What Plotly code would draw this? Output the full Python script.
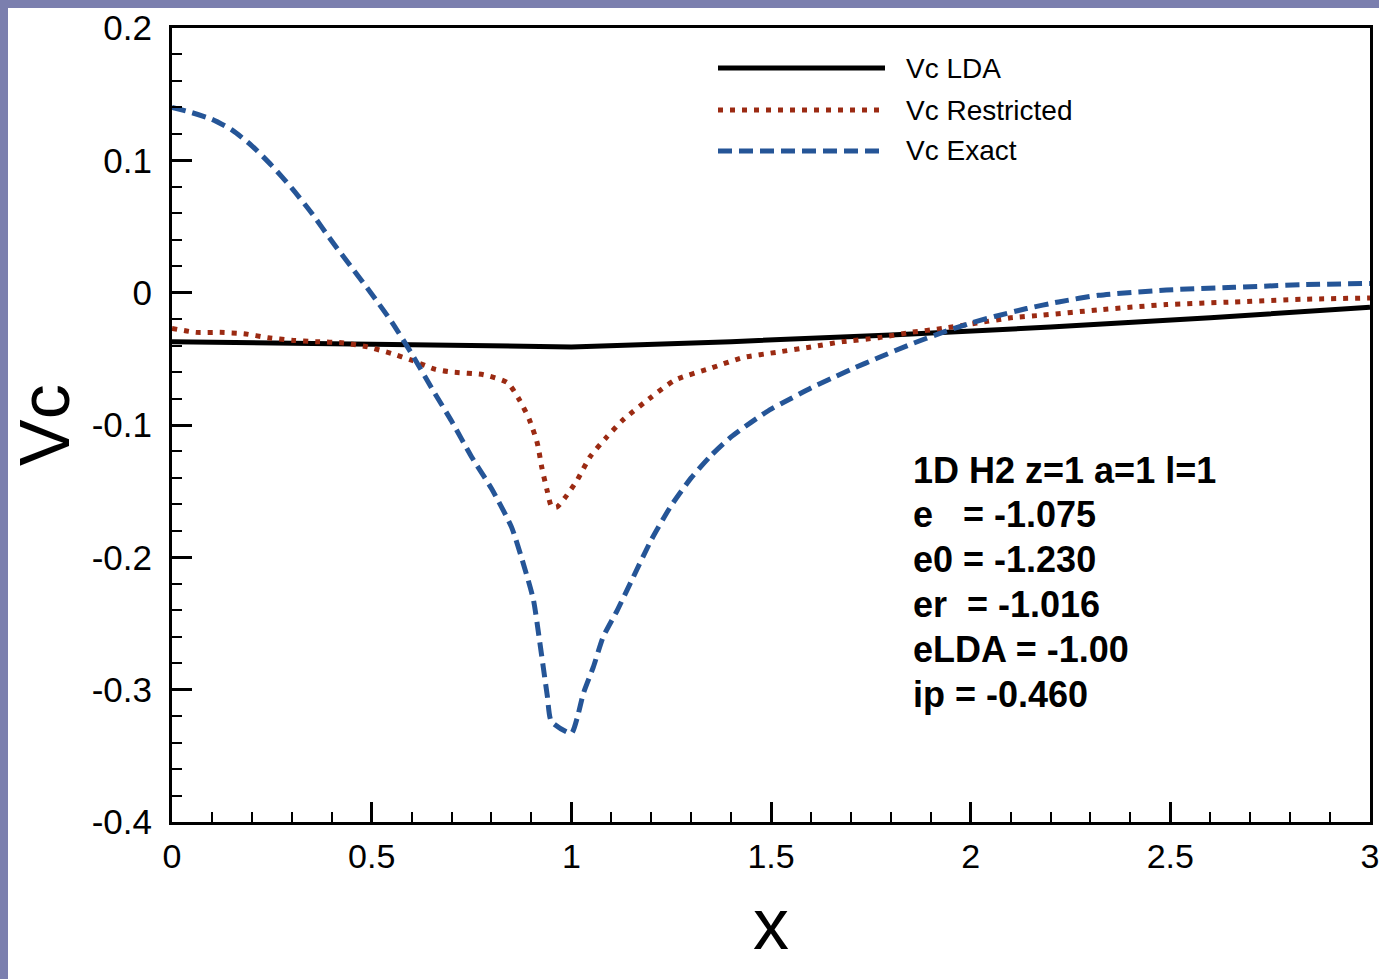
import plotly.graph_objects as go

# ---------------- data ----------------
lda_x = [0.0, 0.3, 0.5, 0.7, 1.0, 1.4, 1.8, 2.2, 2.6, 3.0]
lda_y = [-0.037, -0.038, -0.0385, -0.0395, -0.041, -0.037, -0.032, -0.026, -0.019, -0.011]

restricted_x = [0.0, 0.06, 0.12, 0.18, 0.24, 0.30, 0.36, 0.43, 0.49, 0.55, 0.60, 0.66,
                0.70, 0.78, 0.84, 0.87, 0.895, 0.915, 0.926, 0.939, 0.951, 0.964, 0.984,
                1.014, 1.047, 1.089, 1.13, 1.20, 1.26, 1.35, 1.43, 1.515, 1.60, 1.68,
                1.77, 1.85, 1.93, 2.015, 2.10, 2.18, 2.32, 2.49, 2.66, 2.83, 3.0]
restricted_y = [-0.027, -0.030, -0.030, -0.031, -0.034, -0.036, -0.037, -0.038, -0.041,
                -0.046, -0.051, -0.058, -0.060, -0.062, -0.068, -0.081, -0.096, -0.114,
                -0.132, -0.149, -0.162, -0.162, -0.155, -0.142, -0.124, -0.109, -0.096,
                -0.079, -0.066, -0.057, -0.049, -0.045, -0.041, -0.037, -0.034, -0.030,
                -0.027, -0.023, -0.019, -0.017, -0.013, -0.009, -0.007, -0.005, -0.004]

exact_x = [0.0, 0.05, 0.10, 0.15, 0.20, 0.25, 0.30, 0.35, 0.40, 0.45, 0.50, 0.55, 0.60,
           0.65, 0.70, 0.75, 0.80, 0.85, 0.88, 0.905, 0.92, 0.94, 0.95, 1.00, 1.015, 1.03,
           1.055, 1.08, 1.115, 1.155, 1.20, 1.25, 1.30, 1.35, 1.40, 1.45, 1.50, 1.55, 1.60,
           1.65, 1.70, 1.77, 1.85, 1.93, 2.00, 2.06, 2.14, 2.22, 2.32, 2.49, 2.66, 2.83, 3.0]
exact_y = [0.140, 0.136, 0.131, 0.123, 0.111, 0.096, 0.079, 0.060, 0.039, 0.019, -0.001,
           -0.022, -0.046, -0.072, -0.097, -0.124, -0.148, -0.177, -0.205, -0.232, -0.262,
           -0.305, -0.324, -0.333, -0.321, -0.303, -0.283, -0.260, -0.240, -0.215, -0.187,
           -0.161, -0.140, -0.123, -0.109, -0.098, -0.088, -0.080, -0.072, -0.065, -0.058,
           -0.049, -0.039, -0.030, -0.023, -0.018, -0.012, -0.007, -0.002, 0.002, 0.004,
           0.006, 0.007]

series_names = ["Vc LDA", "Vc Restricted", "Vc Exact"]

x_tickvals = [0, 0.5, 1, 1.5, 2, 2.5, 3]
x_ticktext = ["0", "0.5", "1", "1.5", "2", "2.5", "3"]
y_tickvals = [0.2, 0.1, 0, -0.1, -0.2, -0.3, -0.4]
y_ticktext = ["0.2", "0.1", "0", "-0.1", "-0.2", "-0.3", "-0.4"]

info_lines = ["1D H2 z=1 a=1 l=1",
              "e\u00a0\u00a0\u00a0= -1.075",
              "e0 = -1.230",
              "er\u00a0\u00a0= -1.016",
              "eLDA = -1.00",
              "ip = -0.460"]

# ---------------- layout helpers ----------------
W, H = 1379, 979
L, R, T, B = 172, 9, 28, 157
PW, PH = W - L - R, H - T - B


def px(xp):
    return (xp - L) / PW


def py(yp):
    return 1 - (yp - T) / PH


FONT = "Liberation Sans, Arial, Helvetica, sans-serif"
colors = ["#000000", "#9b2a12", "#255597"]
dashes = ["solid", "5px,7px", "14px,7px"]
widths = [5, 5, 5]
shapes_line = ["linear", "spline", "spline"]

fig = go.Figure()
for xs, ys, name, c, d, w, sh in zip([lda_x, restricted_x, exact_x],
                                     [lda_y, restricted_y, exact_y],
                                     series_names, colors, dashes, widths, shapes_line):
    line = dict(color=c, dash=d, width=w, shape=sh)
    if sh == "spline":
        line["smoothing"] = 0.6
    fig.add_trace(go.Scatter(x=xs, y=ys, mode="lines", name=name,
                             line=line, showlegend=False))

shapes = []
annotations = []

# custom legend
legend_rows = [68, 110, 151]
for name, c, d, w, row in zip(series_names, colors, dashes, widths, legend_rows):
    shapes.append(dict(type="line", xref="paper", yref="paper",
                       x0=px(718), x1=px(885), y0=py(row), y1=py(row),
                       line=dict(color=c, dash=d, width=w)))
    annotations.append(dict(text=name, xref="paper", yref="paper",
                            x=px(904), y=py(row), xanchor="left", yanchor="middle",
                            showarrow=False, font=dict(family=FONT, size=28, color="black")))

# info text block
info_rows = [470, 514, 559, 604, 649, 694]
for txt, row in zip(info_lines, info_rows):
    annotations.append(dict(text="<b>" + txt + "</b>", xref="paper", yref="paper",
                            x=px(911), y=py(row), xanchor="left", yanchor="middle",
                            showarrow=False, font=dict(family=FONT, size=36, color="black")))

# axis titles
annotations.append(dict(text="Vc", xref="paper", yref="paper", x=px(45), y=py(425),
                        xanchor="center", yanchor="middle", textangle=-90, showarrow=False,
                        font=dict(family=FONT, size=70, color="black")))
annotations.append(dict(text="x", xref="paper", yref="paper", x=px(771), y=py(924),
                        xanchor="center", yanchor="middle", showarrow=False,
                        font=dict(family=FONT, size=72, color="black")))

# purple border (left and top)
border = "#7b7fae"
shapes.append(dict(type="rect", xref="paper", yref="paper", x0=px(0), x1=px(8),
                   y0=py(H + 5), y1=py(-5), fillcolor=border, line=dict(width=0)))
shapes.append(dict(type="rect", xref="paper", yref="paper", x0=px(0), x1=px(W + 5),
                   y0=py(8), y1=py(-5), fillcolor=border, line=dict(width=0)))

fig.update_layout(
    width=W, height=H,
    margin=dict(l=L, r=R, t=T, b=B, pad=0, autoexpand=False),
    paper_bgcolor="white", plot_bgcolor="white",
    shapes=shapes, annotations=annotations,
    font=dict(family=FONT, color="black"),
    xaxis=dict(range=[0, 3], tickvals=x_tickvals, ticktext=x_ticktext,
               ticks="inside", ticklen=20, tickwidth=3, tickcolor="black",
               minor=dict(dtick=0.1, ticks="inside", ticklen=10, tickwidth=2, tickcolor="black"),
               showline=True, linewidth=3, linecolor="black", mirror=True,
               showgrid=False, zeroline=False, automargin=False,
               ticklabeloverflow="allow",
               tickfont=dict(family=FONT, size=34, color="black"),
               ticklabelstandoff=2),
    yaxis=dict(range=[-0.4, 0.2], tickvals=y_tickvals, ticktext=y_ticktext,
               ticks="inside", ticklen=20, tickwidth=3, tickcolor="black",
               minor=dict(dtick=0.02, ticks="inside", ticklen=10, tickwidth=2, tickcolor="black"),
               showline=True, linewidth=3, linecolor="black", mirror=True,
               showgrid=False, zeroline=False, automargin=False,
               ticklabeloverflow="allow",
               tickfont=dict(family=FONT, size=35, color="black"),
               ticklabelstandoff=10),
)

fig.write_html("out.html")
